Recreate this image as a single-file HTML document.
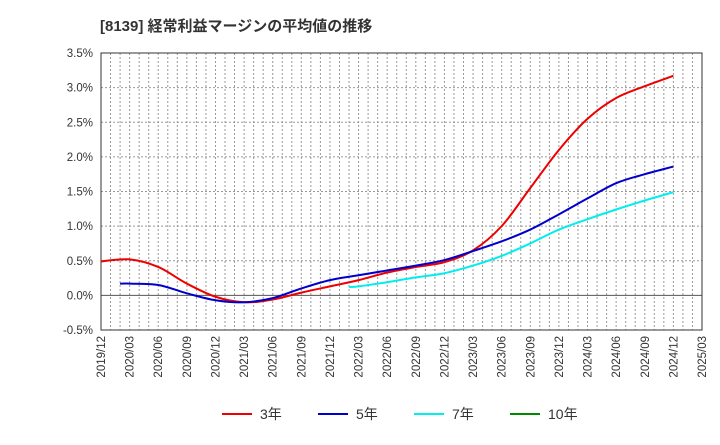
<!DOCTYPE html>
<html><head><meta charset="utf-8"><style>
body{margin:0;background:#fff;font-family:"Liberation Sans","Noto Sans CJK JP",sans-serif;}
</style></head><body>
<svg width="720" height="440" xmlns="http://www.w3.org/2000/svg" id="c" font-family="Liberation Sans, Noto Sans CJK JP, sans-serif">
<text x="100" y="31" font-size="15" font-weight="bold" fill="#333">[8139]  経常利益マージンの平均値の推移</text>
</svg>
<script>
const yTicks=[-0.5,0,0.5,1,1.5,2,2.5,3,3.5];
const xLabels=["2019/12","2020/03","2020/06","2020/09","2020/12","2021/03","2021/06","2021/09","2021/12","2022/03","2022/06","2022/09","2022/12","2023/03","2023/06","2023/09","2023/12","2024/03","2024/06","2024/09","2024/12","2025/03"];
const m3=[0,3,6,9,12,15,18,21,24,27,30,33,36,39,42,45,48,51,54,57,60];
const s3=[0.49,0.52,0.41,0.17,-0.02,-0.10,-0.06,0.04,0.13,0.22,0.33,0.41,0.48,0.65,1.00,1.55,2.10,2.55,2.85,3.02,3.17];
const m5=[2,3,6,9,12,15,18,21,24,27,30,33,36,39,42,45,48,51,54,57,60];
const s5=[0.17,0.17,0.15,0.03,-0.07,-0.10,-0.04,0.10,0.22,0.29,0.36,0.43,0.51,0.64,0.78,0.95,1.17,1.40,1.62,1.75,1.86];
const m7=[26,27,30,33,36,39,42,45,48,51,54,57,60];
const s7=[0.12,0.13,0.19,0.26,0.32,0.43,0.57,0.75,0.95,1.10,1.24,1.37,1.49];
const m10=[];
const s10=[];
const L=101,R=702,T=53,B=330,NS="http://www.w3.org/2000/svg";
const svg=document.getElementById('c');
const xm=m=>L+m*(R-L)/63;
const yv=v=>B-(v+0.5)*(B-T)/4;
function el(t,a,p){const e=document.createElementNS(NS,t);for(const k in a)e.setAttribute(k,a[k]);(p||svg).appendChild(e);return e;}
for(let m=1;m<63;m++){const x=xm(m);const g=el('line',{x1:x,x2:x,y1:T,y2:B,stroke:'#999','stroke-dasharray':'2,2','stroke-width':1});

}
yTicks.forEach(v=>{const y=yv(v);const g=el('line',{x1:L,x2:R,y1:y,y2:y,stroke:v===0?'#555':'#999','stroke-dasharray':v===0?'':'2,2','stroke-width':1});


const t=el('text',{x:93,y:y+4,'text-anchor':'end','font-size':11.5,fill:'#333'});t.textContent=v.toFixed(1)+'%';

});
const fr=el('rect',{x:L,y:T,width:R-L,height:B-T,fill:'none',stroke:'#333','stroke-width':1});


xLabels.forEach((l,i)=>{const x=xm(i*3);const t=el('text',{x:0,y:0,transform:`translate(${x+4},${B+6}) rotate(-90)`,'text-anchor':'end','font-size':11.5,fill:'#333'});t.textContent=l;

});
function path(ms,arr,col,name){const p=arr.map((v,i)=>[xm(ms[i]),yv(v)]);if(p.length<2)return;
let d=`M${p[0][0]},${p[0][1]}`;for(let i=0;i<p.length-1;i++){const a=p[i-1]||p[i],b=p[i],c=p[i+1],e=p[i+2]||c;
d+=` C${b[0]+(c[0]-a[0])/6},${b[1]+(c[1]-a[1])/6} ${c[0]-(e[0]-b[0])/6},${c[1]-(e[1]-b[1])/6} ${c[0]},${c[1]}`;}
const e=el('path',{d:d,fill:'none',stroke:col,'stroke-width':2});

}
path(m3,s3,'#e00','series-3y');path(m5,s5,'#00c','series-5y');path(m7,s7,'#0ee','series-7y');path(m10,s10,'#080','series-10y');
[['3年','#e00',222],['5年','#00c',318],['7年','#0ee',414],['10年','#080',510]].forEach(([n,c,x])=>{
const g=el('g',{});


el('line',{x1:x,x2:x+30,y1:414,y2:414,stroke:c,'stroke-width':2},g);
const t=el('text',{x:x+38,y:419,'font-size':14,fill:'#333'},g);t.textContent=n;});
</script>
</body></html>
